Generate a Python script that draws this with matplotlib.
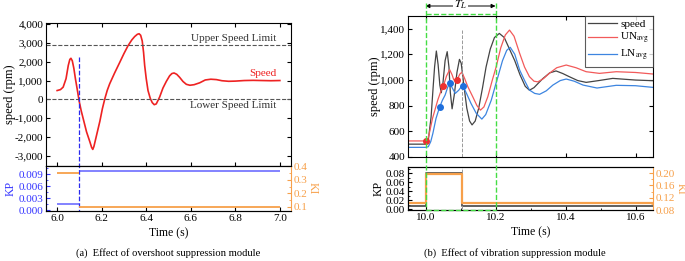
import matplotlib.pyplot as plt
import matplotlib.ticker as mticker
from matplotlib.transforms import blended_transform_factory
from matplotlib.lines import Line2D

# ---- (a) overshoot suppression data ----
t_a = [6.000, 6.015, 6.027, 6.040, 6.050, 6.057, 6.062, 6.068, 6.075, 6.082,
       6.090, 6.099, 6.108, 6.117, 6.132, 6.147, 6.155, 6.160, 6.165, 6.172,
       6.182, 6.192, 6.203, 6.214, 6.225, 6.236, 6.258, 6.281, 6.300, 6.318,
       6.335, 6.348, 6.360, 6.368, 6.375, 6.382, 6.388, 6.393, 6.400, 6.408,
       6.418, 6.427, 6.436, 6.445, 6.460, 6.475, 6.490, 6.505, 6.515, 6.525,
       6.537, 6.550, 6.565, 6.580, 6.596, 6.615, 6.640, 6.665, 6.690, 6.715,
       6.740, 6.770, 6.800, 6.840, 6.880, 6.920, 6.960, 7.000]
speed_a = [470, 520, 650, 1100, 1800, 2120, 2180, 2050, 1650, 1100,
           550, -100, -600, -1020, -1720, -2250, -2550, -2650, -2500, -2150,
           -1650, -1150, -500, 30, 480, 830, 1400, 1960, 2430, 2840,
           3150, 3330, 3450, 3480, 3400, 3100, 2500, 1800, 1100, 470,
           60, -170, -280, -240, 120, 600, 950, 1250, 1370, 1400,
           1330, 1170, 950, 800, 750, 780, 880, 1030, 1070, 1050,
           990, 960, 970, 1000, 1010, 1000, 990, 1000]
upper_limit = 2900
lower_limit = 30
switch_a = 6.1
kp_t_a = [6.0, 6.1, 7.0]
kp_a = [0.0016, 0.0098]
ki_a = [0.35, 0.10]

# ---- (b) vibration suppression data ----
t_sp = [9.950, 10.000, 10.008, 10.016, 10.022, 10.026, 10.031, 10.036, 10.041, 10.045,
        10.050, 10.056, 10.062, 10.067, 10.071, 10.076, 10.082, 10.090, 10.097, 10.102,
        10.110, 10.118, 10.126, 10.133, 10.142, 10.152, 10.163, 10.173, 10.185, 10.197,
        10.211, 10.225, 10.240, 10.255, 10.270, 10.285, 10.297, 10.310, 10.335, 10.355,
        10.373, 10.392, 10.411, 10.435, 10.459, 10.495, 10.535, 10.570, 10.600, 10.650]
speed_b = [500, 500, 530, 713, 950, 1103, 1225, 1120, 960, 900,
           980, 1150, 1220, 1100, 900, 775, 880, 1060, 1160, 1130,
           950, 780, 680, 650, 680, 780, 940, 1100, 1240, 1330,
           1362, 1330, 1240, 1150, 1040, 950, 920, 940, 1010, 1055,
           1070, 1050, 1025, 995, 981, 995, 1012, 1005, 999, 994]
t_un = [9.950, 10.000, 10.006, 10.011, 10.020, 10.035, 10.045, 10.051, 10.060, 10.069,
        10.076, 10.081, 10.090, 10.098, 10.104, 10.112, 10.121, 10.135, 10.147, 10.157,
        10.167, 10.178, 10.190, 10.202, 10.215, 10.228, 10.240, 10.253, 10.269, 10.283,
        10.297, 10.310, 10.321, 10.337, 10.354, 10.375, 10.402, 10.430, 10.459, 10.497,
        10.545, 10.600, 10.650]
un_avg = [525, 525, 530, 585, 700, 843, 920, 952, 1030, 1080,
          1040, 1000, 1000, 1045, 1060, 1010, 947, 869, 800, 765,
          790, 869, 990, 1103, 1250, 1350, 1388, 1340, 1207, 1100,
          1025, 990, 985, 1010, 1052, 1095, 1116, 1095, 1064, 1051,
          1064, 1058, 1046]
t_ln = [9.950, 10.000, 10.008, 10.015, 10.021, 10.030, 10.040, 10.048, 10.056, 10.063,
        10.069, 10.076, 10.085, 10.095, 10.103, 10.107, 10.118, 10.130, 10.145, 10.161,
        10.172, 10.188, 10.200, 10.207, 10.220, 10.232, 10.242, 10.255, 10.269, 10.284,
        10.297, 10.312, 10.326, 10.345, 10.364, 10.385, 10.402, 10.425, 10.450, 10.490,
        10.545, 10.600, 10.650]
ln_avg = [475, 475, 480, 520, 583, 700, 786, 840, 882, 940,
          978, 940, 895, 920, 950, 952, 890, 817, 740, 695,
          730, 843, 960, 1025, 1150, 1230, 1254, 1200, 1077, 990,
          921, 895, 888, 915, 960, 995, 1007, 990, 960, 937,
          958, 955, 942]
un_pts_t = [10.0, 10.051, 10.09]
un_pts_v = [525, 952, 1000]
ln_pts_t = [10.04, 10.069, 10.107]
ln_pts_v = [786, 978, 952]
switch_b = 10.105
tl_start, tl_end = 10.0, 10.2
kp_t_b = [9.95, 10.0, 10.105, 10.65]
kp_b = [0.008, 0.0815, 0.008, 0.008]
ki_b = [0.104, 0.198, 0.104, 0.104]

plt.rcParams['font.family'] = ['Liberation Serif', 'DejaVu Serif']
plt.rcParams['mathtext.fontset'] = 'stix'
plt.rcParams['font.size'] = 8
plt.rcParams['xtick.direction'] = 'in'
plt.rcParams['ytick.direction'] = 'in'
plt.rcParams['xtick.major.size'] = 3
plt.rcParams['ytick.major.size'] = 3
plt.rcParams['xtick.minor.size'] = 1.5
plt.rcParams['ytick.minor.size'] = 1.5
plt.rcParams['xtick.major.pad'] = 2.5
plt.rcParams['ytick.major.pad'] = 2
plt.rcParams['axes.linewidth'] = 0.8

W, H = 685, 261
def box(x0, y0, x1, y1):
    # pixel box (top-left origin) -> figure fraction
    return [x0 / W, 1 - y1 / H, (x1 - x0) / W, (y1 - y0) / H]

fig = plt.figure(figsize=(6.85, 2.61), dpi=100)

blue_k = '#3535ff'
orange = '#f7a04a'
comma = mticker.FuncFormatter(lambda v, p: f'{v:,.0f}')

# ================= (a) =================
ax1 = fig.add_axes(box(46, 23, 291, 166))
ax1.plot(t_a, speed_a, color='#ee2222', lw=1.2)
ax1.axhline(upper_limit, color='#555555', ls='--', lw=0.8)
ax1.axhline(lower_limit, color='#555555', ls='--', lw=0.8)
ax1.plot([switch_a, switch_a], [2250, -3600], color='#2a2aee', ls='--', lw=0.9)
ax1.set_xlim(5.95, 7.05)
ax1.set_ylim(-3530, 4050)
ax1.set_yticks(range(-3000, 4001, 1000))
ax1.yaxis.set_major_formatter(comma)
ax1.set_xticks([6.0, 6.2, 6.4, 6.6, 6.8, 7.0])
ax1.tick_params(top=True, right=True, labelbottom=False, labelsize=8)
ax1.set_ylabel('speed (rpm)', fontsize=9)
ax1.yaxis.set_label_coords(-0.122, 0.5)
ax1.text(6.985, 3250, 'Upper Speed Limit', ha='right', va='center', color='#333333', fontsize=8)
ax1.text(6.985, -320, 'Lower Speed Limit', ha='right', va='center', color='#333333', fontsize=8)
ax1.text(6.985, 1380, 'Speed', ha='right', va='center', color='#ee2222', fontsize=8)

ax2 = fig.add_axes(box(46, 166, 291, 211))
ax2.hlines(kp_a, kp_t_a[:-1], kp_t_a[1:], color='#7878ff', lw=1.3)
ax2.plot([switch_a, switch_a], [-0.001, 0.012], color='#2a2aee', ls='--', lw=0.9)
ax2.set_xlim(5.95, 7.05)
ax2.set_ylim(-0.0002, 0.011)
ax2.set_yticks([0.0, 0.003, 0.006, 0.009])
ax2.yaxis.set_major_formatter(mticker.FormatStrFormatter('%.3f'))
ax2.yaxis.set_minor_locator(mticker.MultipleLocator(0.0015))
ax2.set_xticks([6.0, 6.2, 6.4, 6.6, 6.8, 7.0])
ax2.xaxis.set_major_formatter(mticker.FormatStrFormatter('%.1f'))
ax2.tick_params(axis='y', which='both', colors=blue_k, labelsize=8)
ax2.tick_params(axis='x', labelsize=8)
ax2.spines['left'].set_color(blue_k)
ax2.spines['right'].set_visible(False)
ax2.set_ylabel('KP', color=blue_k, fontsize=8.5)
ax2.yaxis.set_label_coords(-0.118, 0.5)
ax2.set_xlabel('Time (s)', fontsize=8.5, labelpad=3)
ax2b = ax2.twinx()
ax2b.hlines(ki_a, kp_t_a[:-1], kp_t_a[1:], color=orange, lw=1.3)
ax2b.set_ylim(0.07, 0.402)
ax2b.set_yticks([0.1, 0.2, 0.3, 0.4])
ax2b.yaxis.set_major_formatter(mticker.FormatStrFormatter('%.1f'))
ax2b.yaxis.set_minor_locator(mticker.MultipleLocator(0.05))
ax2b.tick_params(axis='y', which='both', colors=orange, labelsize=8)
ax2b.spines['right'].set_color(orange)
ax2b.set_ylabel('KI', color=orange, fontsize=8.5, rotation=270, va='center')
ax2b.yaxis.set_label_coords(1.09, 0.5)

fig.text(168 / W, 1 - 253 / H, '(a)  Effect of overshoot suppression module',
         ha='center', va='center', fontsize=7.6)

# ================= (b) =================
ax3 = fig.add_axes(box(408, 15.7, 653, 157))
ax3.plot(t_sp, speed_b, color='#444444', lw=0.9, label='speed')
ax3.plot(t_un, un_avg, color='#f25a5a', lw=0.9, label='UN$_{\\rm avg}$')
ax3.plot(t_ln, ln_avg, color='#3d85e0', lw=0.9, label='LN$_{\\rm avg}$')
ax3.plot(un_pts_t, un_pts_v, 'o', color='#ee3030', ms=4, zorder=5)
ax3.plot(ln_pts_t, ln_pts_v, 'o', color='#1f6fdc', ms=4, zorder=5)
ax3.plot([switch_b, switch_b], [400, 1390], color='#999999', ls='--', lw=0.7)
ax3.set_xlim(9.95, 10.65)
ax3.set_ylim(400, 1500)
ax3.set_yticks(range(400, 1401, 200))
ax3.yaxis.set_major_formatter(comma)
ax3.set_xticks([10.0, 10.2, 10.4, 10.6])
ax3.tick_params(top=True, right=True, labelbottom=False, labelsize=8)
ax3.set_ylabel('speed (rpm)', fontsize=9)
ax3.yaxis.set_label_coords(-0.11, 0.5)
leg = ax3.legend(loc='upper right', fontsize=8, frameon=True, fancybox=False,
                 borderaxespad=0, handlelength=2.6, labelspacing=0.2,
                 handletextpad=0.3, borderpad=0.3)
leg.get_frame().set_edgecolor('#333333')
leg.get_frame().set_linewidth(0.8)

ax4 = fig.add_axes(box(408, 166.7, 653, 210))
ax4.step(kp_t_b, kp_b, where='post', color='#444444', lw=1.2)
ax4.plot([switch_b, switch_b], [-0.01, 0.1], color='#999999', ls='--', lw=0.7)
ax4.set_xlim(9.95, 10.65)
ax4.set_ylim(-0.0015, 0.095)
ax4.set_yticks([0.0, 0.02, 0.04, 0.06, 0.08])
ax4.yaxis.set_major_formatter(mticker.FormatStrFormatter('%.2f'))
ax4.yaxis.set_minor_locator(mticker.MultipleLocator(0.01))
ax4.set_xticks([10.0, 10.2, 10.4, 10.6])
ax4.xaxis.set_minor_locator(mticker.MultipleLocator(0.1))
ax4.xaxis.set_major_formatter(mticker.FormatStrFormatter('%.1f'))
ax4.tick_params(labelsize=8)
ax4.spines['right'].set_visible(False)
ax4.set_ylabel('KP', fontsize=8.5)
ax4.yaxis.set_label_coords(-0.094, 0.5)
ax4.set_xlabel('Time (s)', fontsize=8.5, labelpad=3)
ax4b = ax4.twinx()
ax4b.step(kp_t_b, ki_b, where='post', color=orange, lw=1.6)
ax4b.set_ylim(0.08, 0.221)
ax4b.set_yticks([0.08, 0.12, 0.16, 0.20])
ax4b.yaxis.set_major_formatter(mticker.FormatStrFormatter('%.2f'))
ax4b.yaxis.set_minor_locator(mticker.MultipleLocator(0.02))
ax4b.tick_params(axis='y', which='both', colors=orange, labelsize=8)
ax4b.spines['right'].set_color(orange)
ax4b.set_ylabel('KI', color=orange, fontsize=8, rotation=270, va='center')
ax4b.yaxis.set_label_coords(1.112, 0.5)

# T_L window: green dashed box spanning both panels, arrow on top
tr = blended_transform_factory(ax3.transData, fig.transFigure)
green = '#44dd44'
for xv in (tl_start, tl_end):
    fig.add_artist(Line2D([xv, xv], [1 - 3 / H, 1 - 210 / H], transform=tr,
                          color=green, ls='--', lw=1.0))
for yp in (14, 210):
    fig.add_artist(Line2D([tl_start, tl_end], [1 - yp / H, 1 - yp / H], transform=tr,
                          color=green, ls='--', lw=1.0))
ax3.annotate('', xy=(tl_start, 1 - 6 / H), xytext=(tl_end, 1 - 6 / H),
             xycoords=tr, textcoords=tr,
             arrowprops=dict(arrowstyle='<|-|>', color='black', lw=0.7,
                             mutation_scale=6, shrinkA=0, shrinkB=0))
ax3.text((tl_start + tl_end) / 2, 1 - 5 / H, '$T_L$', transform=tr, ha='center',
         va='center', fontsize=8.5, bbox=dict(facecolor='white', edgecolor='none', pad=0.5))

fig.text(515 / W, 1 - 253 / H, '(b)  Effect of vibration suppression module',
         ha='center', va='center', fontsize=7.6)

fig.savefig('out.png', dpi=100)
